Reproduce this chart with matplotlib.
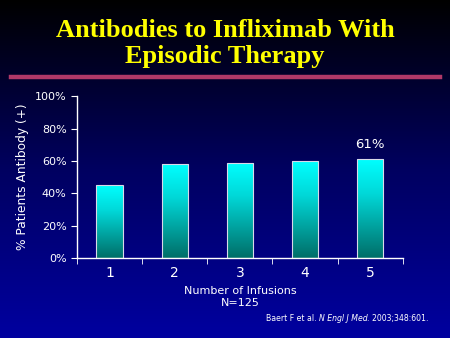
import numpy as np
import matplotlib
matplotlib.use("Agg")
from matplotlib import pyplot as plt
from matplotlib.colors import LinearSegmentedColormap

infusions = ["1", "2", "3", "4", "5"]
pct_positive = [45, 58, 59, 60, 61]
yticks = [0, 20, 40, 60, 80, 100]

fig = plt.figure(figsize=(4.5, 3.38), dpi=100)

# background gradient, black at top to navy at the bottom
bg = fig.add_axes([0, 0, 1, 1], zorder=-10)
bg_cmap = LinearSegmentedColormap.from_list("bg", ["#000000", "#000060", "#0000a0"])
bg.imshow(np.linspace(0, 1, 256).reshape(-1, 1), aspect="auto", cmap=bg_cmap,
          extent=[0, 1, 0, 1], origin="upper")
bg.set_axis_off()

fig.text(0.5, 0.872, "Antibodies to Infliximab With\nEpisodic Therapy", ha="center", va="center",
         color="#ffff00", fontsize=19, fontweight="bold", family="Liberation Serif",
         linespacing=1.15)
fig.add_artist(plt.Line2D([0.025, 0.977], [0.773, 0.773], color="#b03868", lw=3.2))

ax = fig.add_axes([0.171, 0.237, 0.724, 0.478])
ax.set_facecolor("none")
x = np.arange(len(infusions))
bars = ax.bar(x, pct_positive, width=0.4, color="none", edgecolor="#d8d8e8", lw=0.8, zorder=3)

bar_cmap = LinearSegmentedColormap.from_list("bar", [(0, "#006e68"), (0.65, "#00d8d8"), (1, "#00ffff")])
grad = np.linspace(0, 1, 256).reshape(-1, 1)
for b in bars:
    x0, y0 = b.get_x(), b.get_y()
    im = ax.imshow(grad, aspect="auto", cmap=bar_cmap, origin="lower",
                   extent=[x0, x0 + b.get_width(), y0, y0 + b.get_height()], zorder=2)
    im.set_clip_path(b)

ax.set_xlim(-0.5, 4.5)
ax.set_ylim(0, 100)
ax.set_yticks(yticks)
ax.set_yticklabels([f"{v}%" for v in yticks])
ax.set_xticks(x)
ax.set_xticklabels(infusions)
ax.set_xticks(np.arange(-0.5, 5, 1), minor=True)
ax.tick_params(axis="x", which="major", length=0, colors="white", labelsize=10, pad=6)
ax.tick_params(axis="x", which="minor", length=4, direction="out", color="white")
ax.tick_params(axis="y", colors="white", labelsize=8, length=4, direction="out")
for s in ["top", "right"]:
    ax.spines[s].set_visible(False)
for s in ["left", "bottom"]:
    ax.spines[s].set_color("white")
    ax.spines[s].set_linewidth(1.0)

ax.set_ylabel("% Patients Antibody (+)", color="white", fontsize=8.8, labelpad=4)
ax.set_xlabel("Number of Infusions\nN=125", color="white", fontsize=8, labelpad=4, linespacing=1.3)
ax.text(4, pct_positive[-1] + 5, f"{pct_positive[-1]}%", color="white", fontsize=9.5,
        ha="center", va="bottom")

# citation, with the journal name in italics
t1 = fig.text(0.59, 0.058, "Baert F et al. ", color="white", fontsize=5.6, ha="left", va="center")
t2 = ax.annotate("N Engl J Med", xy=(1, 0.5), xycoords=t1, color="white", fontsize=5.6,
                 style="italic", ha="left", va="center")
ax.annotate(". 2003;348:601.", xy=(1, 0.5), xycoords=t2, color="white", fontsize=5.6,
            ha="left", va="center")

fig.savefig("out.png", dpi=100)
